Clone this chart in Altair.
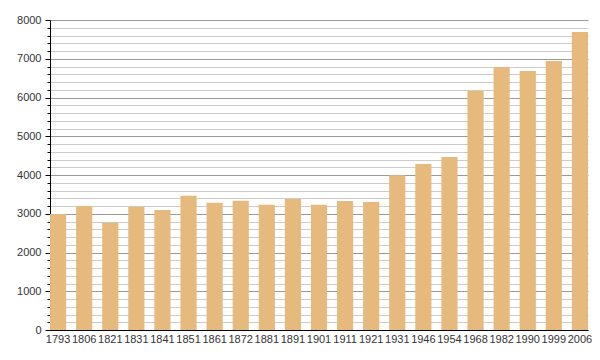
import altair as alt
import pandas as pd

years = ["1793", "1806", "1821", "1831", "1841", "1851", "1861", "1872", "1881", "1891",
         "1901", "1911", "1921", "1931", "1946", "1954", "1968", "1982", "1990", "1999", "2006"]
population = [2994, 3200, 2770, 3183, 3097, 3467, 3286, 3338, 3235, 3381,
              3235, 3329, 3303, 3993, 4284, 4465, 6176, 6787, 6684, 6942, 7690]
y_ticks = list(range(0, 8001, 200))

df = pd.DataFrame({"year": years, "pop": population})

chart = alt.Chart(df).mark_bar(color="#e6b97d").encode(
    x=alt.X("year:N", sort=None, title=None,
            scale=alt.Scale(paddingInner=0.38, paddingOuter=0),
            axis=alt.Axis(labelAngle=0, ticks=False, labelPadding=3, labelFontSize=11,
                          labelColor="#333333", labelFont="Liberation Sans",
                          domainColor="#000000", domainWidth=1, grid=False)),
    y=alt.Y("pop:Q", title=None,
            scale=alt.Scale(domain=[0, 8000], nice=False),
            axis=alt.Axis(values=y_ticks,
                          labelExpr="datum.value % 1000 === 0 ? datum.value : ''",
                          labelFontSize=11, labelColor="#333333", labelFont="Liberation Sans",
                          labelPadding=4,
                          tickColor="#000000",
                          tickSize=alt.condition("datum.value % 1000 === 0", alt.value(5), alt.value(3)),
                          domainColor="#000000", domainWidth=1,
                          grid=True,
                          gridColor=alt.condition("datum.value % 1000 === 0", alt.value("#999999"), alt.value("#cccccc")),
                          gridWidth=1)),
).properties(
    width=538, height=310,
    autosize="none",
    padding={"left": 42, "top": 12, "right": 4, "bottom": 22},
).configure_view(stroke=None)

chart.save("out.html", embed_options={"renderer": "svg", "actions": False})
